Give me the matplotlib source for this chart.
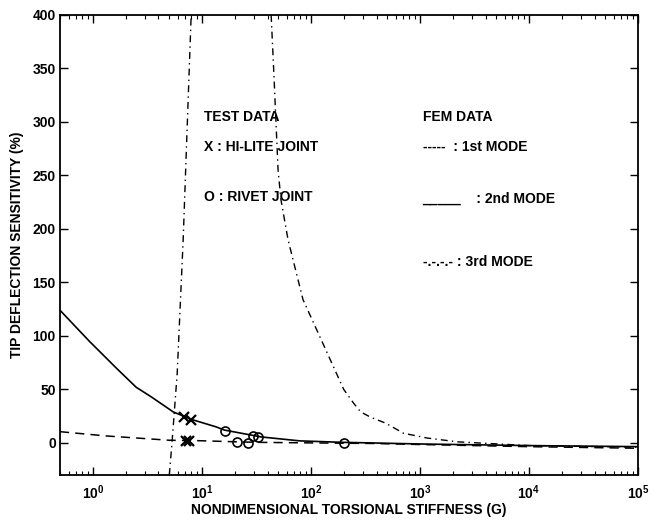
import matplotlib
matplotlib.use("Agg")
import matplotlib.pyplot as plt
from matplotlib.ticker import FixedLocator, LogLocator, NullFormatter

plt.rcParams['font.family'] = ['Liberation Sans', 'DejaVu Sans']
plt.rcParams['font.weight'] = 'bold'
plt.rcParams['mathtext.fontset'] = 'custom'
plt.rcParams['mathtext.rm'] = 'Liberation Sans:bold'
plt.rcParams['mathtext.bf'] = 'Liberation Sans:bold'

# FEM curves: tip deflection sensitivity (%) vs nondimensional torsional stiffness G
mode1_g = [0.5, 1.33, 5.0, 10, 21, 35, 100, 355, 1000, 1e4, 1e5]
mode1_v = [10.5, 6.5, 2.5, 2.0, 1.0, 0.5, 0.0, -0.5, -1.5, -3.5, -5.0]

mode2_g = [0.5, 0.93, 1.64, 2.5, 3.44, 5.46, 8.0, 13.5, 16.1, 34.9, 79, 200, 355, 1000, 1e4, 1e5]
mode2_v = [124, 95, 70, 52, 43, 29, 22, 15, 12, 5.6, 1.9, 0.5, 0.0, -1.0, -2.5, -3.5]

# 3rd mode has two branches either side of the singularity
mode3a_g = [5.03, 5.35, 5.94, 6.74, 7.98]
mode3a_v = [-30, 3, 65, 190, 400]

mode3b_g = [43.2, 45.9, 50.0, 53.2, 61.7, 84.6, 137, 200, 247, 286, 353, 484, 708, 1175, 2213, 1e4, 1e5]
mode3b_v = [400, 342, 255, 227, 190, 134, 87, 50, 37, 29, 24, 18.5, 9, 4.5, 1, -2.5, -4]

# test data
hilite_g = [6.9, 8.0, 7.2, 7.7]
hilite_v = [24, 21.5, 1.5, 1.5]
rivet_g = [16.3, 29.5, 32.7, 21, 26.4, 200]
rivet_v = [11, 6.5, 5.6, 1.0, 0.0, 0.0]

xtick_vals = [1e0, 1e1, 1e2, 1e3, 1e4, 1e5]
xtick_labels = [r'$10^{%d}$' % k for k in range(6)]

fig = plt.figure(figsize=(6.63, 5.21), dpi=100)
ax = fig.add_axes([60 / 663, 1 - 475 / 521, 578 / 663, 460 / 521])

ax.plot(mode1_g, mode1_v, color='black', lw=1.1, linestyle=(0, (6, 4)))
ax.plot(mode2_g, mode2_v, color='black', lw=1.2, linestyle='-')
ax.plot(mode3a_g, mode3a_v, color='black', lw=1.0, linestyle=(0, (5, 3, 1, 3)))
ax.plot(mode3b_g, mode3b_v, color='black', lw=1.0, linestyle=(0, (5, 3, 1, 3)))

ax.plot(hilite_g, hilite_v, 'x', color='black', ms=7, mew=1.6, linestyle='none')
ax.plot(rivet_g, rivet_v, 'o', mfc='none', mec='black', ms=6.5, mew=1.2, linestyle='none')

ax.set_xscale('log')
ax.set_xlim(0.5, 1e5)
ax.set_ylim(-30, 400)

ax.xaxis.set_major_locator(FixedLocator(xtick_vals))
ax.set_xticklabels(xtick_labels, fontsize=10)
ax.xaxis.set_minor_locator(LogLocator(base=10, subs=range(2, 10), numticks=20))
ax.xaxis.set_minor_formatter(NullFormatter())
ax.yaxis.set_major_locator(FixedLocator([0, 50, 100, 150, 200, 250, 300, 350, 400]))
ax.tick_params(axis='y', labelsize=10)

ax.tick_params(which='both', direction='in', top=True, right=True, color='black')
ax.tick_params(which='major', length=6, width=1.0)
ax.tick_params(which='minor', length=3, width=0.8)
ax.tick_params(axis='x', which='major', pad=6)
ax.tick_params(axis='y', which='major', pad=3)

for sp in ax.spines.values():
    sp.set_linewidth(1.3)

ax.set_xlabel('NONDIMENSIONAL TORSIONAL STIFFNESS (G)', fontsize=10, fontweight='bold', labelpad=1)
ax.set_ylabel('TIP DEFLECTION SENSITIVITY (%)', fontsize=10, fontweight='bold', labelpad=6)

# annotation block
tkw = dict(fontsize=10, fontweight='bold', va='center', ha='left')
ax.text(10.5, 305, 'TEST DATA', **tkw)
ax.text(10.5, 277, 'X : HI-LITE JOINT', **tkw)
ax.text(10.5, 230, 'O : RIVET JOINT', **tkw)
ax.text(1057, 305, 'FEM DATA', **tkw)
ax.text(1057, 277, '-----  : 1st MODE', **tkw)
ax.text(1057, 228, '_____    : 2nd MODE', **tkw)
ax.text(1057, 169, '-.-.-.- : 3rd MODE', **tkw)

fig.savefig('out.png', dpi=100)
